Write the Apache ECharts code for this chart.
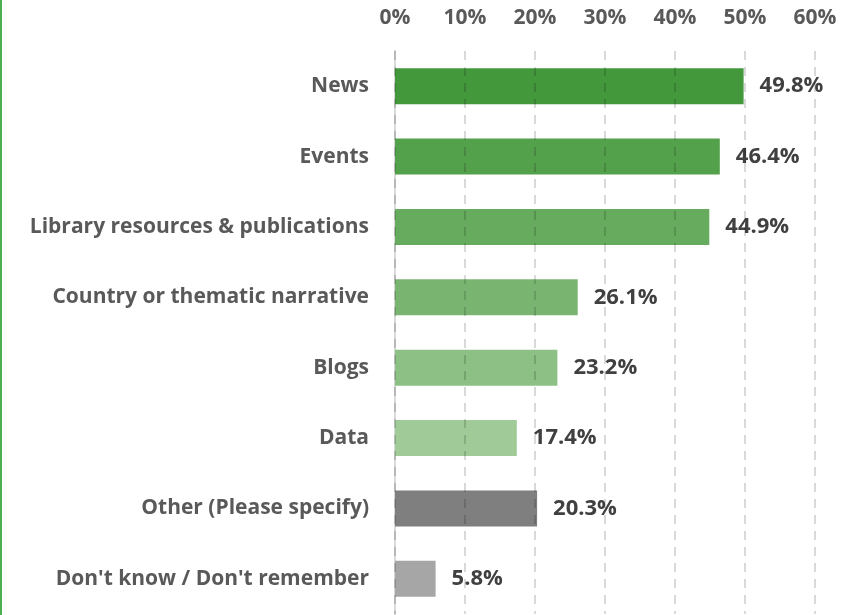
<!DOCTYPE html>
<html>
<head>
<meta charset="utf-8">
<script src="https://cdn.jsdelivr.net/npm/echarts@6/dist/echarts.min.js"></script>
<style>
html,body{margin:0;padding:0;background:#fff;}
#chart{width:856px;height:615px;}
</style>
</head>
<body>
<div id="chart"></div>
<script>
var categories = ["News","Events","Library resources & publications","Country or thematic narrative","Blogs","Data","Other (Please specify)","Don't know / Don't remember"];
var values = [49.8, 46.4, 44.9, 26.1, 23.2, 17.4, 20.3, 5.8];
var barColors = ["#43983b","#54a14c","#66ab5e","#79b571","#8cc084","#a0cb98","#7f7f7f","#a6a6a6"];
var tickValues = [0,10,20,30,40,50,60];

var FONT = "'Open Sans'";
var chart = echarts.init(document.getElementById('chart'), null, {renderer:'canvas'});
chart.setOption({
  animation:false,
  backgroundColor:'#ffffff',
  grid:{left:395, right:41, top:51, bottom:1, containLabel:false},
  xAxis:{
    type:'value', position:'top', min:tickValues[0], max:tickValues[tickValues.length-1], interval:10, z:5,
    axisLine:{show:false}, axisTick:{show:false},
    axisLabel:{margin:22, color:'#595959', fontFamily:FONT, fontWeight:'bold', fontSize:21, formatter:function(v){return v+'%';}},
    splitLine:{show:true, lineStyle:{color:'rgba(0,0,0,0.15)', width:2, type:[9,7]}}
  },
  yAxis:{
    type:'category', inverse:true, data:categories,
    axisLine:{show:true, lineStyle:{color:'#d9d9d9', width:2}},
    axisTick:{show:false},
    axisLabel:{margin:26, color:'#595959', fontFamily:FONT, fontWeight:'bold', fontSize:21}
  },
  series:[{
    type:'bar', data:values.map(function(v,i){return {value:v, itemStyle:{color:barColors[i]}};}),
    barWidth:36,
    label:{show:true, position:'right', distance:16, color:'#404040', fontFamily:FONT, fontWeight:'bold', fontSize:22,
      formatter:function(p){return p.value.toFixed(1)+'%';}}
  }],
  graphic:[{type:'rect', shape:{x:0,y:0,width:2,height:615}, style:{fill:'#4caf50'}}]
});
</script>
</body>
</html>
